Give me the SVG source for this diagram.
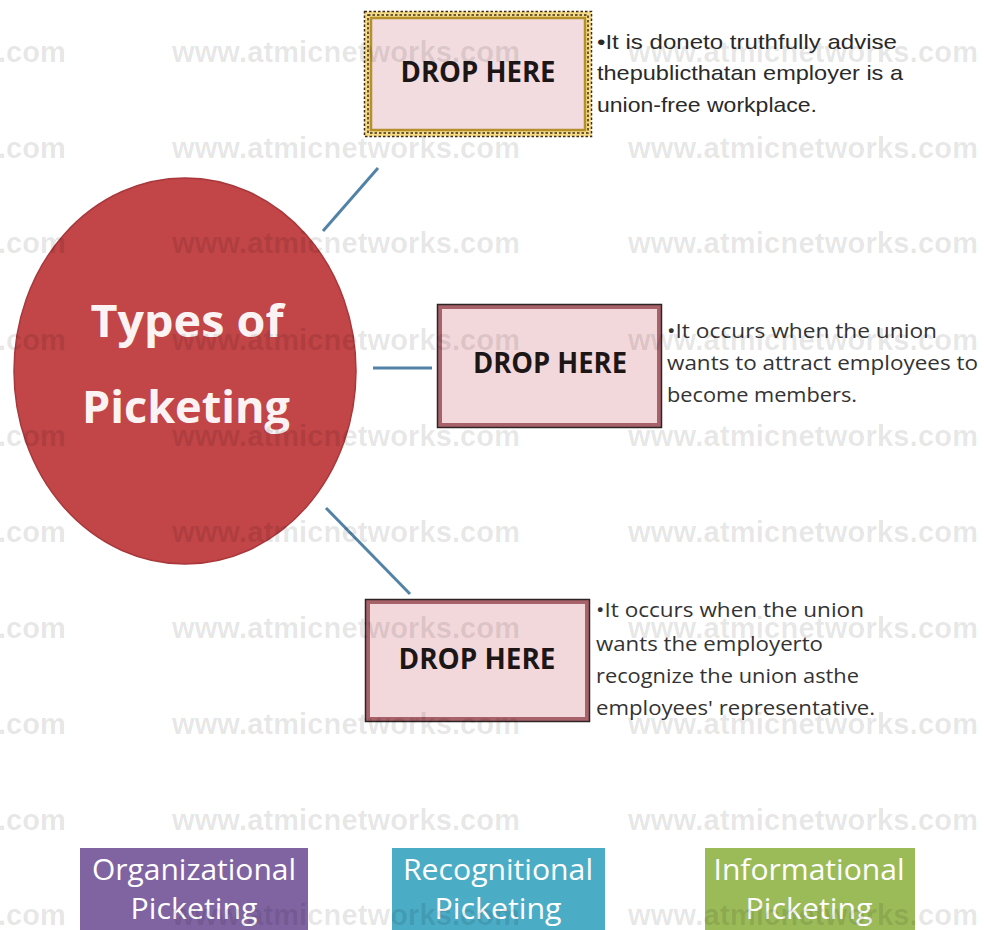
<svg xmlns="http://www.w3.org/2000/svg" width="984" height="930" viewBox="0 0 984 930">
<style>
.drop{font-family:"Open Sans","Liberation Sans",sans-serif;font-weight:bold;font-size:29px;fill:#1c1616;text-anchor:middle}
.desc{font-family:"Open Sans","Liberation Sans",sans-serif;font-size:20px;fill:#333333}
.desc1{font-family:"Liberation Sans Narrow","Liberation Sans",sans-serif;font-size:21px;fill:#2a2a2a}
.title{font-family:"Open Sans","Liberation Sans",sans-serif;font-weight:bold;font-size:45px;fill:#fbf3f3;text-anchor:middle}
.cat{font-family:"Open Sans","Liberation Sans",sans-serif;font-size:29px;fill:#ffffff;text-anchor:middle}
.wm{font-family:"Liberation Sans",Arial,sans-serif;font-weight:bold;font-size:29px;fill:#000000;fill-opacity:0.1}
.conn{stroke:#5283a6;stroke-width:3;fill:none}
.pinkbox{fill:#f3d8db;stroke:#a8626a;stroke-width:4}
.pinkout{fill:none;stroke:#2e2424;stroke-width:1.5}
.dash{fill:none;stroke:#3a2a1a;stroke-width:1.5;stroke-dasharray:2.5 2}
</style>
<rect width="984" height="930" fill="#ffffff"/>

<g id="connectors">
<line class="conn" x1="323" y1="231" x2="378" y2="168"/>
<line class="conn" x1="373" y1="368" x2="432" y2="368"/>
<line class="conn" x1="326" y1="508" x2="410" y2="594"/>
</g>

<g id="center">
<ellipse cx="185" cy="371" rx="171" ry="193" fill="#c24547" stroke="#a8383b" stroke-width="1.5"/>
<text class="title" x="187" y="337" textLength="193" lengthAdjust="spacingAndGlyphs">Types of</text>
<text class="title" x="186" y="423" textLength="208" lengthAdjust="spacingAndGlyphs">Picketing</text>
</g>

<g id="box-informational">
<rect x="364.5" y="11.5" width="227" height="125" fill="#f6dc86"/>
<rect class="dash" x="364.5" y="11.5" width="227" height="125"/>
<rect class="dash" x="368" y="15" width="220" height="118"/>
<rect x="371" y="18" width="214" height="112" fill="#f2dcdf" stroke="#b48f2c" stroke-width="2.5"/>
<text class="drop" x="478" y="82" textLength="155" lengthAdjust="spacingAndGlyphs">DROP HERE</text>
<text class="desc1" x="597" y="49" textLength="300" lengthAdjust="spacingAndGlyphs">•It is doneto truthfully advise</text>
<text class="desc1" x="597" y="80" textLength="306" lengthAdjust="spacingAndGlyphs">thepublicthatan employer is a</text>
<text class="desc1" x="597" y="112" textLength="220" lengthAdjust="spacingAndGlyphs">union-free workplace.</text>
</g>

<g id="box-organizational">
<rect class="pinkbox" x="440" y="307" width="219" height="118"/>
<rect class="pinkout" x="437.5" y="304.5" width="224" height="123"/>
<text class="drop" x="550" y="373" textLength="154" lengthAdjust="spacingAndGlyphs">DROP HERE</text>
<text class="desc" x="667" y="338" textLength="270" lengthAdjust="spacingAndGlyphs">•It occurs when the union</text>
<text class="desc" x="667" y="370" textLength="311" lengthAdjust="spacingAndGlyphs">wants to attract employees to</text>
<text class="desc" x="667" y="402" textLength="190" lengthAdjust="spacingAndGlyphs">become members.</text>
</g>

<g id="box-recognitional">
<rect class="pinkbox" x="368" y="602" width="219" height="117"/>
<rect class="pinkout" x="365.5" y="599.5" width="224" height="122"/>
<text class="drop" x="477" y="669" textLength="157" lengthAdjust="spacingAndGlyphs">DROP HERE</text>
<text class="desc" x="596" y="617" textLength="268" lengthAdjust="spacingAndGlyphs">•It occurs when the union</text>
<text class="desc" x="596" y="651" textLength="227" lengthAdjust="spacingAndGlyphs">wants the employerto</text>
<text class="desc" x="596" y="683" textLength="263" lengthAdjust="spacingAndGlyphs">recognize the union asthe</text>
<text class="desc" x="596" y="715" textLength="279" lengthAdjust="spacingAndGlyphs">employees' representative.</text>
</g>

<g id="cat-organizational">
<rect x="80" y="848" width="228" height="82" fill="#8064a2"/>
<text class="cat" x="194" y="880" textLength="204" lengthAdjust="spacingAndGlyphs">Organizational</text>
<text class="cat" x="194" y="919" textLength="127" lengthAdjust="spacingAndGlyphs">Picketing</text>
</g>
<g id="cat-recognitional">
<rect x="392" y="848" width="213" height="82" fill="#4bacc6"/>
<text class="cat" x="498" y="880" textLength="190" lengthAdjust="spacingAndGlyphs" fill="#e6f6fa">Recognitional</text>
<text class="cat" x="498" y="919" textLength="127" lengthAdjust="spacingAndGlyphs" fill="#e6f6fa">Picketing</text>
</g>
<g id="cat-informational">
<rect x="705" y="848" width="210" height="82" fill="#9bbb59"/>
<text class="cat" x="809" y="880" textLength="191" lengthAdjust="spacingAndGlyphs" fill="#f4f8ea">Informational</text>
<text class="cat" x="809" y="919" textLength="127" lengthAdjust="spacingAndGlyphs" fill="#f4f8ea">Picketing</text>
</g>

<g id="watermark">
<text class="wm" x="-2" y="62">.com</text><text class="wm" x="172" y="62" textLength="348">www.atmicnetworks.com</text><text class="wm" x="628" y="62" textLength="350">www.atmicnetworks.com</text>
<text class="wm" x="-2" y="158">.com</text><text class="wm" x="172" y="158" textLength="348">www.atmicnetworks.com</text><text class="wm" x="628" y="158" textLength="350">www.atmicnetworks.com</text>
<text class="wm" x="-2" y="253">.com</text><text class="wm" x="172" y="253" textLength="348">www.atmicnetworks.com</text><text class="wm" x="628" y="253" textLength="350">www.atmicnetworks.com</text>
<text class="wm" x="-2" y="350">.com</text><text class="wm" x="172" y="350" textLength="348">www.atmicnetworks.com</text><text class="wm" x="628" y="350" textLength="350">www.atmicnetworks.com</text>
<text class="wm" x="-2" y="446">.com</text><text class="wm" x="172" y="446" textLength="348">www.atmicnetworks.com</text><text class="wm" x="628" y="446" textLength="350">www.atmicnetworks.com</text>
<text class="wm" x="-2" y="542">.com</text><text class="wm" x="172" y="542" textLength="348">www.atmicnetworks.com</text><text class="wm" x="628" y="542" textLength="350">www.atmicnetworks.com</text>
<text class="wm" x="-2" y="638">.com</text><text class="wm" x="172" y="638" textLength="348">www.atmicnetworks.com</text><text class="wm" x="628" y="638" textLength="350">www.atmicnetworks.com</text>
<text class="wm" x="-2" y="734">.com</text><text class="wm" x="172" y="734" textLength="348">www.atmicnetworks.com</text><text class="wm" x="628" y="734" textLength="350">www.atmicnetworks.com</text>
<text class="wm" x="-2" y="830">.com</text><text class="wm" x="172" y="830" textLength="348">www.atmicnetworks.com</text><text class="wm" x="628" y="830" textLength="350">www.atmicnetworks.com</text>
<text class="wm" x="-2" y="925">.com</text><text class="wm" x="172" y="925" textLength="348">www.atmicnetworks.com</text><text class="wm" x="628" y="925" textLength="350">www.atmicnetworks.com</text>
</g>
</svg>
